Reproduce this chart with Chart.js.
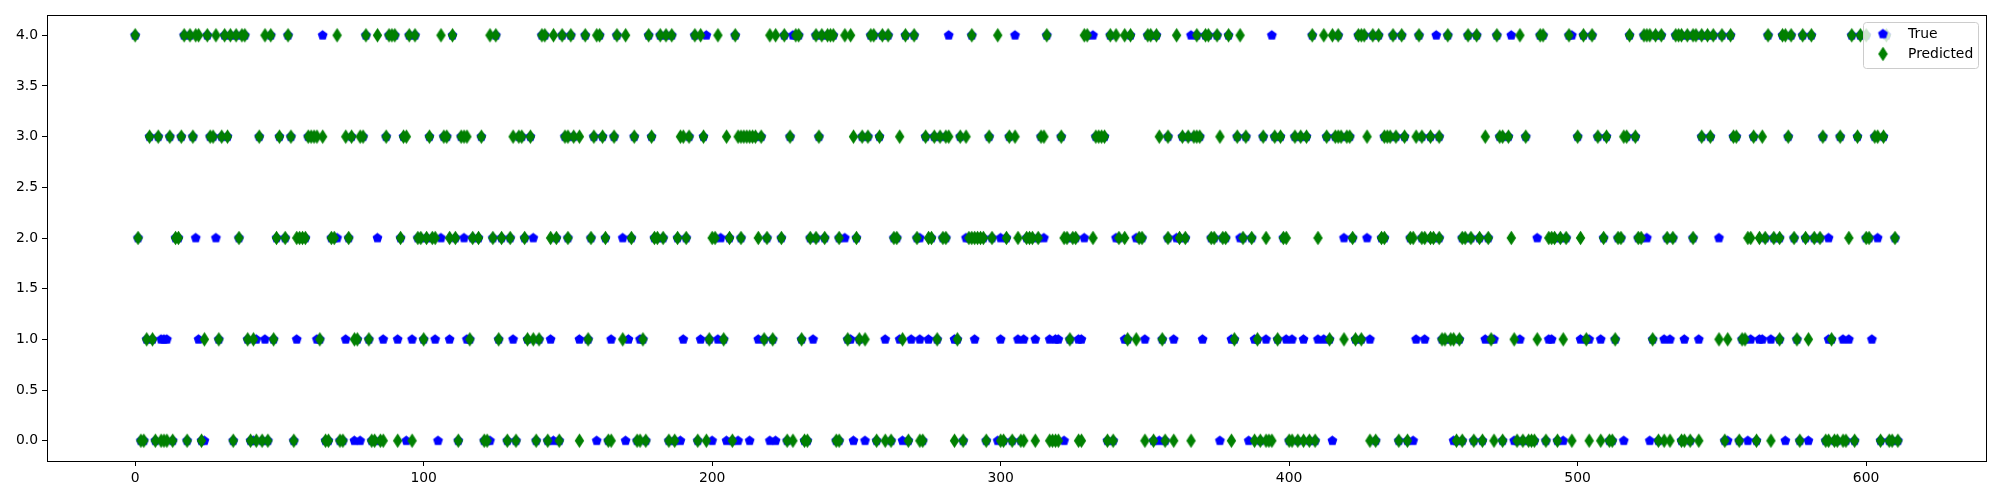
<!DOCTYPE html>
<html>
<head>
<meta charset="utf-8">
<script src="https://cdn.jsdelivr.net/npm/chart.js@4.4.1/dist/chart.umd.min.js"></script>
<style>
  html, body { margin: 0; padding: 0; background: #fff; }
  canvas { display: block; }
</style>
</head>
<body>
<canvas id="chart" width="2000" height="500"></canvas>
<script>
// sample indices per predicted class (green diamonds)
const pred0 = [2, 3, 7, 9, 10, 11, 13, 18, 23, 34, 40, 42, 44, 46, 55, 66, 67, 71, 72, 82, 83, 85, 86, 91, 96, 112, 121, 122, 129, 132, 139, 143, 147, 154, 164, 165, 174, 175, 177, 185, 187, 195, 198, 207, 226, 228, 232, 233, 243, 244, 257, 260, 262, 268, 272, 273, 284, 287, 295, 300, 301, 304, 307, 308, 312, 317, 318, 319, 320, 327, 328, 337, 339, 350, 353, 357, 360, 366, 380, 388, 390, 392, 393, 394, 400, 401, 403, 405, 407, 409, 428, 430, 438, 441, 458, 460, 464, 467, 471, 474, 479, 481, 483, 484, 485, 489, 493, 498, 504, 508, 511, 512, 528, 530, 532, 536, 537, 539, 542, 551, 556, 562, 567, 577, 586, 587, 589, 590, 592, 593, 596, 605, 608, 609, 611];
const pred1 = [4, 6, 24, 29, 39, 41, 48, 64, 76, 77, 81, 100, 116, 126, 136, 138, 140, 157, 169, 176, 199, 204, 218, 221, 231, 247, 251, 253, 266, 278, 285, 324, 344, 347, 356, 381, 389, 396, 414, 419, 423, 425, 453, 454, 456, 457, 459, 470, 478, 486, 495, 503, 513, 526, 549, 552, 557, 558, 570, 576, 580, 588];
const pred2 = [1, 14, 15, 36, 49, 52, 56, 57, 58, 59, 68, 69, 74, 92, 98, 99, 101, 103, 104, 109, 111, 117, 119, 124, 127, 130, 135, 144, 146, 150, 158, 163, 172, 180, 181, 183, 188, 191, 200, 201, 206, 210, 216, 219, 224, 234, 236, 239, 244, 250, 263, 264, 271, 275, 276, 280, 281, 289, 290, 291, 292, 293, 294, 297, 302, 306, 309, 310, 311, 313, 322, 323, 325, 326, 332, 341, 343, 348, 349, 358, 362, 364, 373, 374, 377, 378, 384, 387, 392, 398, 399, 410, 422, 432, 433, 442, 443, 446, 447, 449, 450, 452, 460, 461, 463, 466, 469, 477, 490, 491, 492, 494, 496, 501, 509, 514, 515, 521, 522, 531, 533, 540, 559, 560, 563, 565, 568, 570, 575, 579, 582, 584, 594, 600, 601, 610];
const pred3 = [5, 8, 12, 16, 20, 26, 27, 30, 32, 43, 50, 54, 60, 61, 62, 63, 65, 73, 75, 78, 79, 87, 93, 94, 102, 107, 108, 113, 114, 115, 120, 131, 133, 134, 137, 149, 150, 152, 154, 159, 162, 166, 173, 179, 189, 190, 192, 197, 205, 209, 210, 211, 212, 213, 214, 215, 217, 227, 237, 249, 252, 254, 258, 265, 274, 277, 279, 281, 282, 286, 288, 296, 303, 305, 314, 315, 321, 333, 334, 335, 336, 355, 358, 363, 365, 367, 368, 369, 376, 382, 385, 391, 395, 397, 402, 404, 406, 413, 416, 417, 418, 420, 421, 427, 433, 434, 435, 437, 440, 444, 446, 449, 452, 468, 473, 474, 476, 482, 500, 507, 510, 516, 517, 520, 543, 546, 554, 555, 561, 564, 573, 585, 591, 597, 603, 604, 606];
const pred4 = [0, 17, 19, 21, 22, 25, 28, 31, 33, 35, 37, 38, 45, 47, 53, 70, 80, 84, 88, 89, 90, 95, 97, 106, 110, 123, 125, 141, 142, 145, 148, 151, 156, 160, 161, 167, 170, 178, 182, 184, 186, 194, 196, 202, 208, 220, 222, 225, 229, 230, 236, 238, 240, 241, 242, 246, 248, 255, 256, 259, 261, 267, 270, 290, 299, 316, 329, 330, 338, 340, 343, 345, 351, 352, 354, 361, 368, 371, 372, 375, 379, 383, 408, 412, 415, 417, 424, 425, 426, 429, 431, 436, 439, 445, 455, 462, 465, 472, 480, 487, 488, 497, 502, 505, 518, 523, 524, 525, 527, 529, 534, 535, 536, 538, 540, 541, 543, 545, 547, 550, 553, 566, 571, 572, 574, 578, 581, 595, 598, 600, 607];

// sample indices whose true class differs from the prediction (visible blue pentagons)
const wrong0 = [24, 41, 76, 78, 94, 105, 123, 145, 160, 170, 189, 200, 205, 209, 213, 220, 222, 249, 253, 266, 299, 322, 355, 376, 386, 415, 443, 457, 478, 495, 516, 525, 552, 559, 572, 580];
const wrong1 = [9, 10, 11, 22, 42, 45, 56, 63, 73, 86, 91, 96, 104, 109, 115, 131, 144, 154, 165, 171, 175, 190, 196, 202, 216, 235, 248, 260, 265, 269, 272, 275, 284, 291, 300, 306, 308, 312, 317, 319, 320, 327, 328, 343, 350, 360, 370, 380, 388, 392, 399, 401, 405, 410, 412, 428, 444, 447, 468, 471, 480, 490, 491, 501, 504, 508, 530, 532, 537, 542, 560, 563, 564, 567, 587, 592, 594, 602];
const wrong2 = [21, 28, 70, 84, 106, 114, 138, 169, 203, 246, 272, 288, 300, 315, 329, 340, 347, 361, 383, 419, 427, 486, 524, 549, 587, 604];
const wrong3 = [];
const wrong4 = [65, 198, 228, 282, 305, 332, 366, 394, 451, 477, 498];

const xTicks = [0, 100, 200, 300, 400, 500, 600];
const yTicks = [0, 0.5, 1, 1.5, 2, 2.5, 3, 3.5, 4];

const predicted = [pred0, pred1, pred2, pred3, pred4];
const wrong = [wrong0, wrong1, wrong2, wrong3, wrong4];

// where no different true class was seen, the true class equals the prediction
const wrongIdx = new Set(wrong.flat());
const truePoints = [];
const predPoints = [];
predicted.forEach((list, c) => {
  list.forEach((i) => {
    predPoints.push({ x: i, y: c });
    if (!wrongIdx.has(i)) truePoints.push({ x: i, y: c });
  });
});
wrong.forEach((list, c) => list.forEach((i) => truePoints.push({ x: i, y: c })));

function pentagon(color) {
  const c = document.createElement("canvas");
  c.width = 13;
  c.height = 13;
  const ctx = c.getContext("2d");
  const r = 4.3;
  ctx.beginPath();
  for (let k = 0; k < 5; k++) {
    const a = -Math.PI / 2 + (k * 2 * Math.PI) / 5;
    ctx.lineTo(6.5 + r * Math.cos(a), 6.5 + r * Math.sin(a));
  }
  ctx.closePath();
  ctx.fillStyle = color;
  ctx.fill();
  ctx.lineWidth = 1.4;
  ctx.strokeStyle = color;
  ctx.stroke();
  return c;
}

function thinDiamond(color) {
  const c = document.createElement("canvas");
  c.width = 11;
  c.height = 16;
  const ctx = c.getContext("2d");
  const cx = 5.5, cy = 8, hw = 3.9, hh = 6.0;
  ctx.beginPath();
  ctx.moveTo(cx, cy - hh);
  ctx.lineTo(cx + hw, cy);
  ctx.lineTo(cx, cy + hh);
  ctx.lineTo(cx - hw, cy);
  ctx.closePath();
  ctx.fillStyle = color;
  ctx.fill();
  ctx.lineWidth = 1.4;
  ctx.strokeStyle = color;
  ctx.stroke();
  return c;
}

const blueMark = pentagon("#0000ff");
const greenMark = thinDiamond("#008000");

const frame = {
  id: "frame",
  afterDatasetsDraw(chart) {
    const { ctx, chartArea: a } = chart;
    ctx.save();
    ctx.strokeStyle = "#000";
    ctx.lineWidth = 1;
    ctx.strokeRect(Math.round(a.left) + 0.5, Math.round(a.top) + 0.5,
      Math.round(a.right - a.left), Math.round(a.bottom - a.top));
    ctx.restore();
  },
};

const legendBox = {
  id: "legendBox",
  afterDraw(chart) {
    const ctx = chart.ctx;
    ctx.save();
    ctx.beginPath();
    ctx.roundRect(1863.5, 22.5, 115, 46, 3);
    ctx.fillStyle = "rgba(255,255,255,0.8)";
    ctx.fill();
    ctx.strokeStyle = "#cccccc";
    ctx.lineWidth = 1;
    ctx.stroke();
    ctx.drawImage(blueMark, 1883 - blueMark.width / 2, 34 - blueMark.height / 2);
    ctx.drawImage(greenMark, 1883 - greenMark.width / 2, 54 - greenMark.height / 2);
    ctx.fillStyle = "#000";
    ctx.font = "13.9px 'DejaVu Sans'";
    ctx.textBaseline = "middle";
    ctx.fillText("True", 1908, 34);
    ctx.fillText("Predicted", 1908, 54.5);
    ctx.restore();
  },
};

Chart.defaults.font.family = "'DejaVu Sans'";
Chart.defaults.font.size = 13.9;
Chart.defaults.color = "#000";

new Chart(document.getElementById("chart"), {
  type: "scatter",
  data: {
    datasets: [
      {
        label: "True",
        data: truePoints,
        pointStyle: blueMark,
        pointRadius: 5,
        order: 2,
      },
      {
        label: "Predicted",
        data: predPoints,
        pointStyle: greenMark,
        pointRadius: 5,
        order: 1,
      },
    ],
  },
  options: {
    responsive: false,
    animation: false,
    events: [],
    layout: { padding: { top: 15, right: 14, left: 0, bottom: 0 } },
    plugins: {
      legend: { display: false },
      tooltip: { enabled: false },
    },
    scales: {
      x: {
        type: "linear",
        min: -30.55,
        max: 641.55,
        afterBuildTicks: (s) => { s.ticks = xTicks.map((v) => ({ value: v })); },
        afterFit: (s) => { s.height = 39; },
        grid: { drawOnChartArea: false, tickLength: 5, color: "#000", lineWidth: 1 },
        border: { display: false },
        ticks: { padding: 4, maxRotation: 0, autoSkip: false, callback: (v) => String(v) },
      },
      y: {
        type: "linear",
        min: -0.2,
        max: 4.2,
        afterBuildTicks: (s) => { s.ticks = yTicks.map((v) => ({ value: v })); },
        afterFit: (s) => { s.width = 47; },
        grid: { drawOnChartArea: false, tickLength: 5, color: "#000", lineWidth: 1 },
        border: { display: false },
        ticks: { padding: 4, autoSkip: false, callback: (v) => v.toFixed(1) },
      },
    },
  },
  plugins: [frame, legendBox],
});
</script>
</body>
</html>
